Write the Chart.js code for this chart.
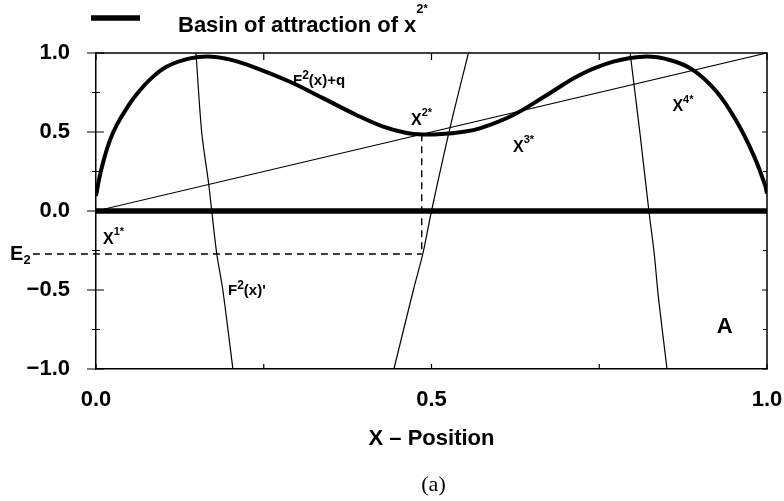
<!DOCTYPE html>
<html>
<head>
<meta charset="utf-8">
<script src="https://cdn.jsdelivr.net/npm/chart.js@4.4.0/dist/chart.umd.min.js"></script>
<style>
  html, body { margin: 0; padding: 0; background: #fff; }
  #wrap { width: 784px; height: 501px; }
</style>
</head>
<body>
<div id="wrap"><canvas id="chart" width="784" height="501"></canvas></div>
<script>
// F^2(x)+q
const curveX = [0.000, 0.005, 0.012, 0.021, 0.031, 0.045, 0.060, 0.080, 0.105, 0.140, 0.172, 0.200, 0.239, 0.289, 0.339, 0.388, 0.428, 0.463, 0.490, 0.515, 0.545, 0.572, 0.622, 0.672, 0.721, 0.771, 0.816, 0.855, 0.890, 0.925, 0.955, 0.980, 0.997, 1.000];
const curveY = [0.095, 0.210, 0.330, 0.450, 0.545, 0.645, 0.735, 0.830, 0.913, 0.966, 0.977, 0.958, 0.905, 0.818, 0.713, 0.608, 0.534, 0.494, 0.484, 0.487, 0.500, 0.523, 0.608, 0.734, 0.861, 0.945, 0.977, 0.956, 0.892, 0.755, 0.565, 0.354, 0.165, 0.110];

// diagonal y = x
const diagX = [0, 1];
const diagY = [0, 1];

// F^2(x)' - the three branches that fall inside [-1, 1]
const deriv1X = [0.149, 0.1575, 0.168, 0.1725, 0.180, 0.189, 0.204];
const deriv1Y = [1, 0.5, 0.169, 0, -0.272, -0.5, -1];
const deriv2X = [0.444, 0.473, 0.487, 0.500, 0.528, 0.555];
const deriv2Y = [-1, -0.5, -0.272, 0, 0.534, 1];
const deriv3X = [0.796, 0.811, 0.824, 0.832, 0.838, 0.851];
const deriv3Y = [1, 0.48, 0, -0.272, -0.54, -1];

// basin of attraction of x2*
const basinX = [0, 1];
const basinY = [0, 0];

// E2 level and the x2* drop line
const e2X = [-0.094, 0.4854];
const e2Y = [-0.272, -0.272];
const dropX = [0.4854, 0.4854];
const dropY = [0.485, -0.272];

const xTickValues = [0, 0.5, 1];
const xTickLabels = ['0.0', '0.5', '1.0'];
const xMinorTicks = [0.25, 0.75];
const yTickValues = [-1, -0.5, 0, 0.5, 1];
const yTickLabels = ['\u22121.0', '\u22120.5', '0.0', '0.5', '1.0'];
const yMinorTicks = [-0.75, -0.25, 0.25, 0.75];

const sans = "'Liberation Sans', Arial, sans-serif";

// text placed in the plot (data coordinates)
const notes = [
  { x: 0.2936, y: 0.797, parts: [['F', 15, 0], ['2', 12, 6], ['(x)+q', 15, 0]] },
  { x: 0.4694, y: 0.544, parts: [['X', 16, 0], ['2*', 11, 9]] },
  { x: 0.6215, y: 0.373, parts: [['X', 16, 0], ['3*', 11, 9]] },
  { x: 0.859, y: 0.635, parts: [['X', 16, 0], ['4*', 11, 8]] },
  { x: 0.0104, y: -0.209, parts: [['X', 16, 0], ['1*', 11, 9]] },
  { x: 0.1967, y: -0.532, parts: [['F', 15, 0], ['2', 12, 6], ["(x)'", 15, 0]] },
  { x: 0.925, y: -0.772, parts: [['A', 22, 0]] },
  { x: -0.128, y: -0.31, parts: [['E', 20, 0], ['2', 13, -4]] }
];

function pts(xs, ys) {
  return xs.map((v, i) => ({ x: v, y: ys[i] }));
}

function drawRich(ctx, x, y, parts) {
  let cx = x;
  parts.forEach(([t, size, raise]) => {
    ctx.font = `bold ${size}px ${sans}`;
    ctx.fillText(t, cx, y - raise);
    cx += ctx.measureText(t).width;
  });
}

const decorations = {
  id: 'decorations',
  afterDatasetsDraw(chart) {
    const { ctx, chartArea: a, scales: { x, y } } = chart;
    ctx.save();
    ctx.strokeStyle = '#000';
    ctx.fillStyle = '#000';
    ctx.lineWidth = 1.5;

    // top and right edges of the box
    ctx.beginPath();
    ctx.moveTo(a.left, a.top);
    ctx.lineTo(a.right, a.top);
    ctx.lineTo(a.right, a.bottom);
    ctx.stroke();

    // tick marks
    ctx.lineWidth = 1.2;
    ctx.beginPath();
    yTickValues.forEach(v => {
      const p = y.getPixelForValue(v);
      ctx.moveTo(a.left - 9, p); ctx.lineTo(a.left + 8, p);
      ctx.moveTo(a.right - 5, p); ctx.lineTo(a.right, p);
    });
    yMinorTicks.forEach(v => {
      const p = y.getPixelForValue(v);
      ctx.moveTo(a.left - 4, p); ctx.lineTo(a.left + 4, p);
      ctx.moveTo(a.right - 4, p); ctx.lineTo(a.right, p);
    });
    xTickValues.concat(xMinorTicks).forEach(v => {
      const p = x.getPixelForValue(v);
      ctx.moveTo(p, a.top); ctx.lineTo(p, a.top + 7);
      ctx.moveTo(p, a.bottom); ctx.lineTo(p, a.bottom - 5);
    });
    ctx.stroke();

    // labels in the plot
    ctx.textBaseline = 'alphabetic';
    ctx.textAlign = 'left';
    notes.forEach(n => {
      drawRich(ctx, x.getPixelForValue(n.x), y.getPixelForValue(n.y), n.parts);
    });

    // legend
    const basin = chart.data.datasets[chart.data.datasets.length - 1];
    ctx.lineWidth = basin.borderWidth;
    ctx.beginPath();
    ctx.moveTo(91, 18);
    ctx.lineTo(140, 18);
    ctx.stroke();
    drawRich(ctx, 178, 32, [[basin.label, 22, 0], ['2', 13, 19], ['*', 11, 20]]);

    // panel caption
    ctx.font = "22px 'Liberation Serif', 'DejaVu Serif', serif";
    ctx.textAlign = 'center';
    ctx.textBaseline = 'middle';
    ctx.fillText('(a)', (a.left + a.right) / 2 + 2, 485);
    ctx.restore();
  }
};

const thin = { showLine: true, pointRadius: 0, borderColor: '#000', borderWidth: 1.2, fill: false, tension: 0.3 };

new Chart(document.getElementById('chart'), {
  type: 'scatter',
  data: {
    datasets: [
      { ...thin, label: 'F2(x)+q', data: pts(curveX, curveY), borderWidth: 4, tension: 0.4 },
      { ...thin, label: 'y = x', data: pts(diagX, diagY), tension: 0 },
      { ...thin, label: "F2(x)' a", data: pts(deriv1X, deriv1Y) },
      { ...thin, label: "F2(x)' b", data: pts(deriv2X, deriv2Y) },
      { ...thin, label: "F2(x)' c", data: pts(deriv3X, deriv3Y) },
      { ...thin, label: 'E2', data: pts(e2X, e2Y), borderDash: [7, 5], borderWidth: 1.4, tension: 0, clip: false },
      { ...thin, label: 'drop', data: pts(dropX, dropY), borderDash: [7, 5], borderWidth: 1.4, tension: 0 },
      { ...thin, label: 'Basin of attraction of x', data: pts(basinX, basinY), borderWidth: 5.5, borderCapStyle: 'butt', tension: 0 }
    ]
  },
  options: {
    responsive: false,
    animation: false,
    events: [],
    layout: { padding: { left: 0, right: 17, top: 53, bottom: 0 } },
    plugins: {
      legend: { display: false },
      tooltip: { enabled: false }
    },
    scales: {
      x: {
        type: 'linear',
        min: 0,
        max: 1,
        afterBuildTicks: s => { s.ticks = xTickValues.map(v => ({ value: v })); },
        afterFit: s => { s.height = 132; s.paddingLeft = 0; s.paddingRight = 0; },
        ticks: {
          callback: v => xTickLabels[xTickValues.indexOf(v)],
          font: { family: sans, size: 22, weight: 'bold' },
          color: '#000',
          padding: 18,
          maxRotation: 0,
          autoSkip: false
        },
        grid: { display: false, drawTicks: false },
        border: { display: true, color: '#000', width: 1.5 },
        title: {
          display: true,
          text: 'X \u2013 Position',
          font: { family: sans, size: 22, weight: 'bold' },
          color: '#000',
          padding: { top: 0, bottom: 49 }
        }
      },
      y: {
        type: 'linear',
        min: -1,
        max: 1,
        afterBuildTicks: s => { s.ticks = yTickValues.map(v => ({ value: v })); },
        afterFit: s => { s.width = 96; s.paddingTop = 0; s.paddingBottom = 0; },
        ticks: {
          callback: v => yTickLabels[yTickValues.indexOf(v)],
          font: { family: sans, size: 22, weight: 'bold' },
          color: '#000',
          padding: 26,
          autoSkip: false
        },
        grid: { display: false, drawTicks: false },
        border: { display: true, color: '#000', width: 1.5 }
      }
    }
  },
  plugins: [decorations]
});
</script>
</body>
</html>
